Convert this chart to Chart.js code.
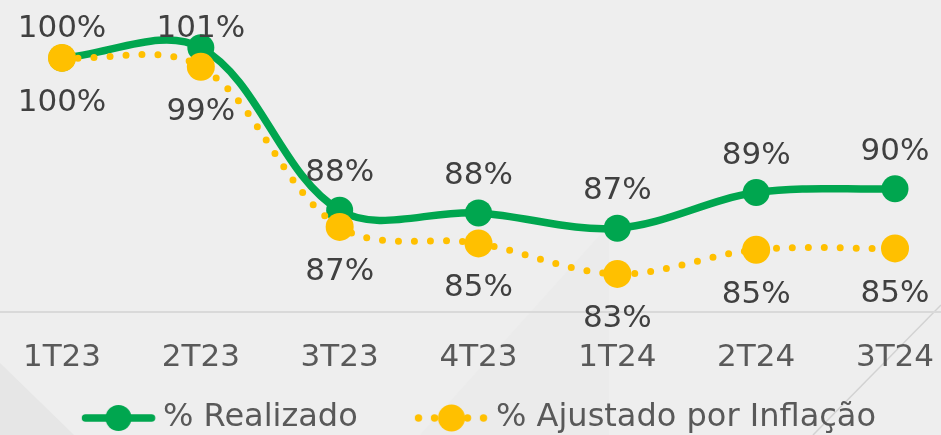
<!DOCTYPE html>
<html><head><meta charset="utf-8">
<script src="https://cdn.jsdelivr.net/npm/chart.js@4"></script>
<style>
html,body{margin:0;padding:0;background:#EEEEEE;}
#wrap{width:941px;height:435px;position:relative;}
</style>
</head><body>
<div id="wrap"><canvas id="c"></canvas></div>
<script>
// ---- data ----
const categories = ['1T23', '2T23', '3T23', '4T23', '1T24', '2T24', '3T24'];
const realizado = [100.0, 100.8, 88.0, 87.8, 86.6, 89.4, 89.7];
const ajustado  = [100.0, 99.3, 86.7, 85.4, 83.0, 84.9, 85.0];
const seriesNames = ['% Realizado', '% Ajustado por Inflação'];
const yMin = 80, yMax = 104.4;

// ---- style ----
const FONT = "'DejaVu Sans', Verdana, sans-serif";
const GREEN = '#00A64F';
const YELLOW = '#FFC000';
const LABEL_COLOR = '#404040';
const TICK_COLOR = '#595959';
const LEGEND_FONT_SIZE = 32;
const W = 941, H = 435;

// layout targets
const AREA_LEFT = 62, AREA_RIGHT = 895, AREA_TOP = 2, AREA_BOTTOM = 312;
const X_AXIS_H = 65;
const LEGEND_TEXT_Y = 418;
const T1 = 163, T2 = 496, C1 = 118.5, ICON_W = 74;

const mctx = document.createElement('canvas').getContext('2d');
mctx.font = 'normal ' + LEGEND_FONT_SIZE + 'px ' + FONT;
const w1 = mctx.measureText(seriesNames[0]).width;
const w2 = mctx.measureText(seriesNames[1]).width;
const h = LEGEND_FONT_SIZE / 2;
const legendTop = AREA_BOTTOM + X_AXIS_H;
const legPad = LEGEND_TEXT_Y - h - legendTop;
const K = T2 - T1 - w1 - h;
const boxW = K - legPad;
const Lc = T1 - (boxW - K - w1 - w2) / 2;
const padR = Math.max(0, W - 2 * Lc);
const rightAxisW = Math.max(0, (W - AREA_RIGHT) - padR);
const iconOffset = C1 - (T1 - h - boxW / 2);

function makeIcon(kind) {
  const off = Math.max(0, iconOffset);
  const cw = Math.ceil(ICON_W + 2 * off), chh = 32;
  const cv = document.createElement('canvas');
  cv.width = cw; cv.height = chh;
  const c = cv.getContext('2d');
  const cx = cw / 2 + off, cy = chh / 2;
  if (kind === 0) {
    c.strokeStyle = GREEN; c.lineWidth = 7.5; c.lineCap = 'round';
    c.beginPath(); c.moveTo(cx - ICON_W / 2 + 4, cy); c.lineTo(cx + ICON_W / 2 - 4, cy); c.stroke();
    c.fillStyle = GREEN; c.beginPath(); c.arc(cx, cy, 13, 0, Math.PI * 2); c.fill();
  } else {
    c.fillStyle = YELLOW;
    [-33, -17, 16, 32].forEach(d => { c.beginPath(); c.arc(cx + d, cy, 3.7, 0, Math.PI * 2); c.fill(); });
    c.beginPath(); c.arc(cx, cy, 13.5, 0, Math.PI * 2); c.fill();
  }
  return cv;
}
const icons = [makeIcon(0), makeIcon(1)];

const bgPlugin = {
  id: 'bg',
  beforeDraw(chart) {
    const {ctx, width, height} = chart;
    ctx.save();
    ctx.fillStyle = '#EEEEEE';
    ctx.fillRect(0, 0, width, height);
    ctx.fillStyle = '#E6E6E6';
    ctx.beginPath(); ctx.moveTo(0, 363); ctx.lineTo(74, height); ctx.lineTo(0, height); ctx.closePath(); ctx.fill();
    ctx.fillStyle = '#EBEBEB';
    ctx.beginPath(); ctx.moveTo(609, 225); ctx.lineTo(609, height); ctx.lineTo(420, height); ctx.closePath(); ctx.fill();
    ctx.strokeStyle = '#D2D2D2'; ctx.lineWidth = 1.5;
    ctx.beginPath(); ctx.moveTo(width, 305); ctx.lineTo(813, height); ctx.stroke();
    ctx.restore();
  },
  beforeDatasetsDraw(chart) {
    const {ctx, width} = chart;
    const y = chart.scales.y.getPixelForValue(yMin);
    ctx.save();
    ctx.strokeStyle = '#D9D9D9'; ctx.lineWidth = 2;
    ctx.beginPath(); ctx.moveTo(0, y); ctx.lineTo(width, y); ctx.stroke();
    ctx.restore();
  }
};

const labelPlugin = {
  id: 'valueLabels',
  afterDatasetsDraw(chart) {
    const ctx = chart.ctx;
    ctx.save();
    ctx.font = 'normal 31px ' + FONT;
    ctx.fillStyle = LABEL_COLOR;
    ctx.textAlign = 'center';
    ctx.textBaseline = 'middle';
    chart.data.datasets.forEach((ds, di) => {
      const meta = chart.getDatasetMeta(di);
      meta.data.forEach((pt, i) => {
        const txt = Math.round(ds.data[i]) + '%';
        let y;
        if (ds.labelPos === 'above') y = Math.max(pt.y - 37, chart.chartArea.top + 27);
        else y = pt.y + 45;
        ctx.fillText(txt, pt.x, y);
      });
    });
    ctx.restore();
  }
};

new Chart(document.getElementById('c'), {
  type: 'line',
  data: {
    labels: categories,
    datasets: [
      {
        label: seriesNames[0], data: realizado, labelPos: 'above', order: 1,
        borderColor: GREEN, backgroundColor: GREEN, borderWidth: 7.5,
        pointRadius: 13.5, pointBorderWidth: 0, pointBackgroundColor: GREEN,
        tension: 0.35, fill: false, clip: false
      },
      {
        label: seriesNames[1], data: ajustado, labelPos: 'below', order: 0,
        borderColor: YELLOW, backgroundColor: YELLOW, borderWidth: 7,
        borderDash: [0, 16], borderCapStyle: 'round',
        pointRadius: 14, pointBorderWidth: 0, pointBackgroundColor: YELLOW,
        tension: 0.35, fill: false, clip: false
      }
    ]
  },
  options: {
    responsive: true, maintainAspectRatio: false, animation: false,
    layout: { autoPadding: false, padding: { left: 0, right: padR, top: AREA_TOP, bottom: 0 } },
    scales: {
      x: {
        offset: false,
        grid: { display: true, drawOnChartArea: false, drawTicks: true, tickLength: 21, color: 'rgba(0,0,0,0)' },
        border: { display: false },
        ticks: { color: TICK_COLOR, font: { family: FONT, size: 31 }, padding: 6, maxRotation: 0, autoSkip: false },
        afterFit: s => { s.height = X_AXIS_H; }
      },
      y: {
        min: yMin, max: yMax, display: true,
        grid: { display: false }, border: { display: false }, ticks: { display: false },
        afterFit: s => { s.width = AREA_LEFT; }
      },
      y2: {
        position: 'right', display: true,
        grid: { display: false }, border: { display: false }, ticks: { display: false },
        afterFit: s => { s.width = rightAxisW; }
      }
    },
    plugins: {
      tooltip: { enabled: false },
      legend: {
        position: 'bottom', maxHeight: H - legendTop,
        labels: {
          usePointStyle: true, pointStyleWidth: boxW, padding: legPad,
          color: TICK_COLOR, font: { family: FONT, size: LEGEND_FONT_SIZE },
          generateLabels: chart => chart.data.datasets.map((ds, i) => ({
            text: ds.label, pointStyle: icons[i], fillStyle: ds.borderColor,
            strokeStyle: ds.borderColor, lineWidth: 0, hidden: false, datasetIndex: i,
            fontColor: TICK_COLOR
          }))
        }
      }
    }
  },
  plugins: [bgPlugin, labelPlugin]
});
</script>
</body></html>
